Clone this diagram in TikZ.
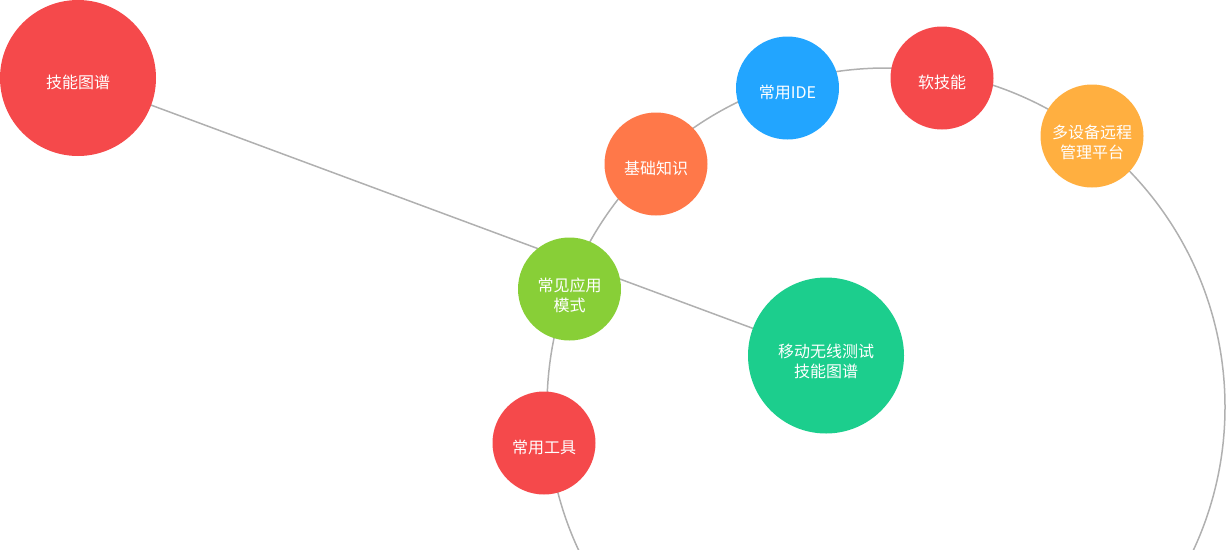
\documentclass[tikz,border=0pt]{standalone}
\usepackage{fontspec}
\newfontfamily\cjk{Noto Sans CJK SC}
\usetikzlibrary{backgrounds}
\definecolor{cred}{HTML}{F5494B}
\definecolor{corange}{HTML}{FF7849}
\definecolor{cblue}{HTML}{22A5FF}
\definecolor{cyellow}{HTML}{FFAF40}
\definecolor{cgreen}{HTML}{88CF37}
\definecolor{cteal}{HTML}{1CCE8D}
\definecolor{linegray}{HTML}{B0B0B0}
\begin{document}
\begin{tikzpicture}[x=1pt,y=-1pt,
  bub/.style={circle, inner sep=0pt, draw=none},
  smallbub/.style={bub, minimum size=103pt},
  bigbub/.style={bub, minimum size=156pt},
  txt/.style={text=white, font=\cjk\fontsize{16}{20}\selectfont, align=center},
  one/.style={txt, yshift=-4pt},
  two/.style={txt, yshift=-6pt},
  link/.style={draw=linegray, line width=1.5pt}]
\useasboundingbox (0,0) rectangle (1226,549);
\node[bigbub, fill=cred, label={[one]center:技能图谱}] (skill) at (78,78) {};
\node[smallbub, fill=corange, label={[one]center:基础知识}] (basic) at (656,164) {};
\node[smallbub, fill=cblue, label={[one]center:常用IDE}] (ide) at (787.5,88) {};
\node[smallbub, fill=cred, label={[one]center:软技能}] (soft) at (942,78) {};
\node[smallbub, fill=cyellow, label={[two]center:{多设备远程\\管理平台}}] (remote) at (1092,136) {};
\node[smallbub, fill=cgreen, label={[two]center:{常见应用\\模式}}] (mode) at (569.5,289) {};
\node[bigbub, fill=cteal, label={[two]center:{移动无线测试\\技能图谱}}] (mobile) at (826,355.5) {};
\node[smallbub, fill=cred, label={[one]center:常用工具}] (tools) at (544,443) {};
\begin{pgfonlayer}{background}
  \clip (0,0) rectangle (1226,549);
  \draw[link] (886,407) circle[radius=339];
  \draw[link] (skill.center) -- (mobile.center);
\end{pgfonlayer}
\end{tikzpicture}
\end{document}
